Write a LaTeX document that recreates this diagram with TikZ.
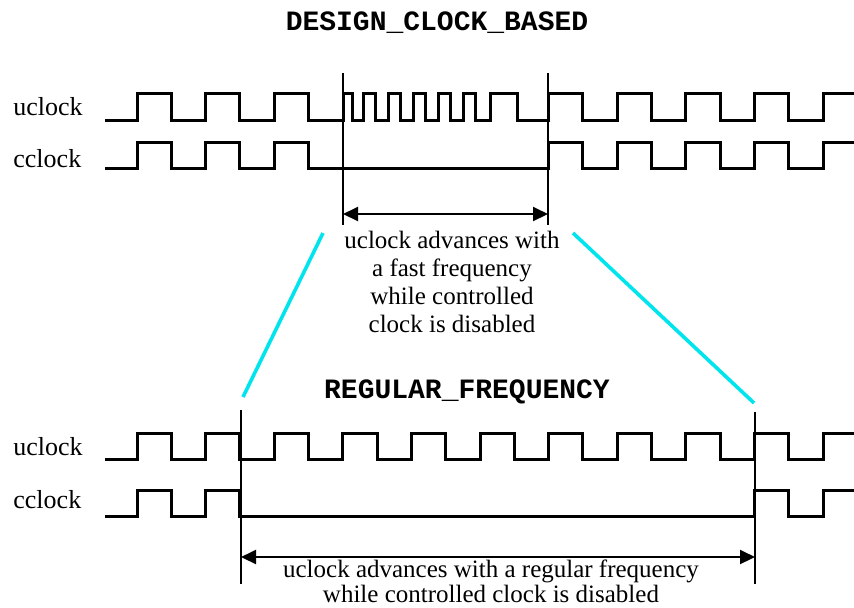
\documentclass[tikz,border=0pt]{standalone}
\usepackage{fontspec}
\setmainfont{Liberation Serif}
\setmonofont{Liberation Mono}
\usetikzlibrary{arrows.meta}
\definecolor{zoomcyan}{RGB}{0,228,238}

\begin{document}
\begin{tikzpicture}[x=0.5pt, y=-0.5pt,
    wave/.style={line width=1.5pt, line join=miter},
    marker/.style={line width=0.65pt},
    span/.style={line width=1pt, {Triangle[length=7.5pt,width=7pt]}-{Triangle[length=7.5pt,width=7pt]}},
    zoomline/.style={line width=1.8pt, zoomcyan},
    sig/.style={anchor=base west, inner sep=0pt, font=\fontsize{13}{15}\selectfont},
    title/.style={font=\fontsize{14}{16}\selectfont\ttfamily\bfseries},
    note/.style={anchor=north, align=center, inner sep=0pt, font=\fontsize{12.5}{14}\selectfont}]

    \useasboundingbox (0,0) rectangle (854,607);

    % 1. Titel
    \node[title] (title-dcb) at (437,23) {DESIGN\_CLOCK\_BASED};
    \node[title] (title-reg) at (467,392) {REGULAR\_FREQUENCY};

    % 2. Signalnamen
    \node[sig] (uclk-dcb) at (13,115) {uclock};
    \node[sig] (cclk-dcb) at (13,167) {cclock};
    \node[sig] (uclk-reg) at (13,455) {uclock};
    \node[sig] (cclk-reg) at (13,508) {cclock};

    % 3. Oben: uclock mit schnellen Takten, cclock angehalten
    % Periode 68.6, halbe Periode 34.3, erste steigende Flanke bei 137
    \draw[wave] (105,120)
        foreach \k in {0,1,2}{ -- (137+68.6*\k,120) -- (137+68.6*\k,93) -- (171.3+68.6*\k,93) -- (171.3+68.6*\k,120) }
        -- (343,120) -- (343,93) -- (352,93) -- (352,120)
        foreach \x in {363,388,413,438,463}{ -- (\x,120) -- (\x,93) -- (\x+12,93) -- (\x+12,120) }
        -- (490,120) -- (490,93) -- (517,93) -- (517,120)
        foreach \k in {6,...,9}{ -- (137+68.6*\k,120) -- (137+68.6*\k,93) -- (171.3+68.6*\k,93) -- (171.3+68.6*\k,120) }
        -- (823,120) -- (823,93) -- (854,93);
    \draw[wave] (105,168)
        foreach \k in {0,1,2}{ -- (137+68.6*\k,168) -- (137+68.6*\k,142) -- (171.3+68.6*\k,142) -- (171.3+68.6*\k,168) }
        foreach \k in {6,...,9}{ -- (137+68.6*\k,168) -- (137+68.6*\k,142) -- (171.3+68.6*\k,142) -- (171.3+68.6*\k,168) }
        -- (823,168) -- (823,142) -- (854,142);

    % 4. Unten: uclock regulaer, cclock angehalten
    \draw[wave] (105,459)
        foreach \k in {0,...,9}{ -- (137+68.6*\k,459) -- (137+68.6*\k,433) -- (171.3+68.6*\k,433) -- (171.3+68.6*\k,459) }
        -- (823,459) -- (823,433) -- (854,433);
    \draw[wave] (105,516)
        foreach \k in {0,1}{ -- (137+68.6*\k,516) -- (137+68.6*\k,490) -- (171.3+68.6*\k,490) -- (171.3+68.6*\k,516) }
        foreach \k in {9}{ -- (137+68.6*\k,516) -- (137+68.6*\k,490) -- (171.3+68.6*\k,490) -- (171.3+68.6*\k,516) }
        -- (823,516) -- (823,490) -- (854,490);

    % 5. Markierungen und Massspfeile
    \coordinate (dcb-l-top) at (343,73);
    \coordinate (dcb-l-bot) at (343,225);
    \coordinate (dcb-r-top) at (548,73);
    \coordinate (dcb-r-bot) at (548,225);
    \coordinate (dcb-l-arr) at (343,214);
    \coordinate (dcb-r-arr) at (548,214);

    \coordinate (reg-l-top) at (241,410);
    \coordinate (reg-l-bot) at (241,584);
    \coordinate (reg-r-top) at (755,412);
    \coordinate (reg-r-bot) at (755,584);
    \coordinate (reg-l-arr) at (241,557);
    \coordinate (reg-r-arr) at (755,557);

    \draw[marker] (dcb-l-top) -- (dcb-l-bot);
    \draw[marker] (dcb-r-top) -- (dcb-r-bot);
    \draw[marker] (reg-l-top) -- (reg-l-bot);
    \draw[marker] (reg-r-top) -- (reg-r-bot);

    \draw[span] (dcb-l-arr) -- (dcb-r-arr);
    \draw[span] (reg-l-arr) -- (reg-r-arr);

    % 6. Erlaeuterungen
    \node[note] (note-dcb) at (452,231) {uclock advances with\\a fast frequency\\while controlled\\clock is disabled};
    \node[note, font=\fontsize{12.5}{12.5}\selectfont] (note-reg) at (491,559) {uclock advances with a regular frequency\\while controlled clock is disabled};

    % 7. Vergroesserungslinien (cyan)
    \coordinate (zoom-l-a) at (323,233);
    \coordinate (zoom-l-b) at (243,397);
    \coordinate (zoom-r-a) at (573,233);
    \coordinate (zoom-r-b) at (754,403);
    \draw[zoomline] (zoom-l-a) -- (zoom-l-b);
    \draw[zoomline] (zoom-r-a) -- (zoom-r-b);

\end{tikzpicture}
\end{document}
